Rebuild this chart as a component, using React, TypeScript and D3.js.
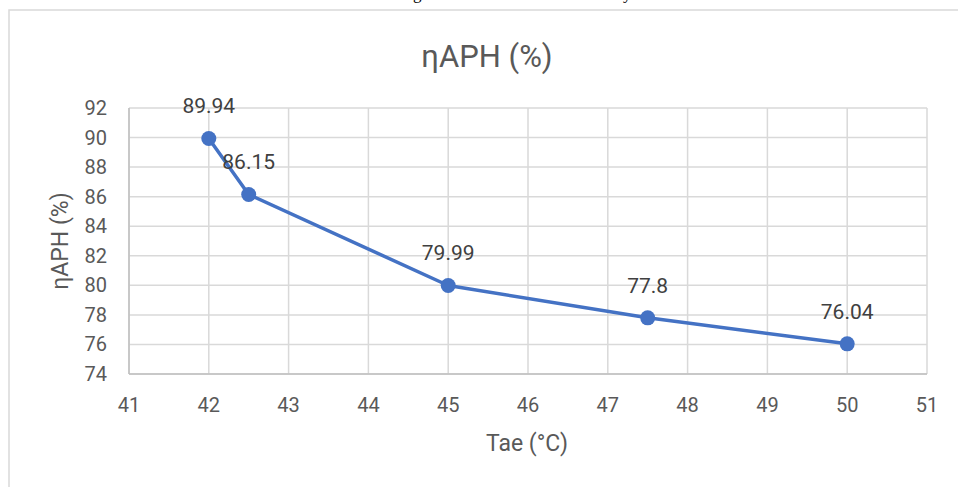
import React from "react";
import * as d3 from "d3";

const tae = [42, 42.5, 45, 47.5, 50];
const eta = [89.94, 86.15, 79.99, 77.8, 76.04];
const xTicks = [41, 42, 43, 44, 45, 46, 47, 48, 49, 50, 51];
const yTicks = [74, 76, 78, 80, 82, 84, 86, 88, 90, 92];
const chartTitle = "ηAPH (%)";
const xTitle = "Tae (°C)";
const yTitle = "ηAPH (%)";

const W = 958;
const H = 487;
const plot = { left: 129, right: 927, top: 108, bottom: 374 };
const font = "Roboto, 'Open Sans', sans-serif";
const textColor = "#595959";
const blue = "#4472C4";

export default function App() {
  const x = d3.scaleLinear().domain([41, 51]).range([plot.left, plot.right]);
  const y = d3.scaleLinear().domain([74, 92]).range([plot.bottom, plot.top]);
  const line = d3
    .line<number>()
    .x((_, i) => x(tae[i]))
    .y((d) => y(d));

  return (
    <svg
      width={W}
      height={H}
      style={{ position: "absolute", left: 0, top: 0, background: "#fff" }}
    >
      {/* clipped caption descenders from the page above */}
      <text x={413} y={-1} fontFamily="'Liberation Serif', serif" fontSize={17} fill="#000">g</text>
      <text x={623} y={-1} fontFamily="'Liberation Serif', serif" fontSize={17} fill="#000">y</text>
      {/* chart frame */}
      <rect x={9} y={10} width={W} height={H} fill="#fff" stroke="#d9d9d9" strokeWidth={1.5} />
      <text x={487} y={67} textAnchor="middle" fontFamily={font} fontSize={31} fill={textColor}>
        {chartTitle}
      </text>
      {/* gridlines */}
      {xTicks.map((t) => (
        <line key={"gx" + t} x1={x(t)} x2={x(t)} y1={plot.top} y2={plot.bottom} stroke="#d9d9d9" strokeWidth={1.5} />
      ))}
      {yTicks.map((t) => (
        <line key={"gy" + t} x1={plot.left} x2={plot.right} y1={y(t)} y2={y(t)} stroke="#d9d9d9" strokeWidth={1.5} />
      ))}
      {/* axes */}
      <line x1={plot.left} x2={plot.left} y1={plot.top} y2={plot.bottom} stroke="#bfbfbf" strokeWidth={1.5} />
      <line x1={plot.left} x2={plot.right} y1={plot.bottom} y2={plot.bottom} stroke="#bfbfbf" strokeWidth={1.5} />
      {/* tick labels */}
      {xTicks.map((t) => (
        <text key={"tx" + t} x={x(t)} y={412} textAnchor="middle" fontFamily={font} fontSize={20} fill={textColor}>
          {t}
        </text>
      ))}
      {yTicks.map((t) => (
        <text key={"ty" + t} x={107} y={y(t) + 7} textAnchor="end" fontFamily={font} fontSize={20} fill={textColor}>
          {t}
        </text>
      ))}
      {/* axis titles */}
      <text x={527} y={451} textAnchor="middle" fontFamily={font} fontSize={23} fill={textColor}>
        {xTitle}
      </text>
      <text
        transform={`translate(68,241) rotate(-90)`}
        textAnchor="middle"
        fontFamily={font}
        fontSize={23}
        fill={textColor}
      >
        {yTitle}
      </text>
      {/* series */}
      <path d={line(eta) || ""} fill="none" stroke={blue} strokeWidth={3.5} strokeLinejoin="round" />
      {eta.map((v, i) => (
        <circle key={"p" + i} cx={x(tae[i])} cy={y(v)} r={7.5} fill={blue} />
      ))}
      {eta.map((v, i) => (
        <text key={"l" + i} x={x(tae[i])} y={y(v) - 25} textAnchor="middle" fontFamily={font} fontSize={21} fill="#404040">
          {v}
        </text>
      ))}
    </svg>
  );
}
